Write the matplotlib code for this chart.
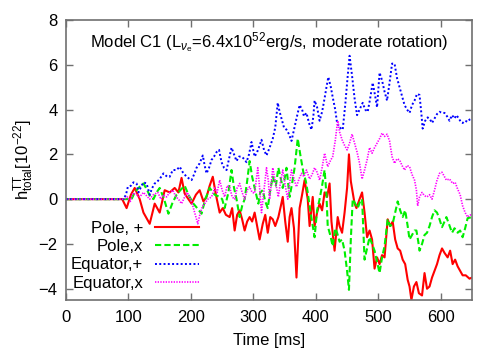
import matplotlib
matplotlib.use("Agg")
import matplotlib.pyplot as plt

plt.rcParams['font.family'] = ['Liberation Sans', 'DejaVu Sans']
plt.rcParams['mathtext.fontset'] = 'custom'
plt.rcParams['mathtext.rm'] = 'Liberation Sans'
plt.rcParams['mathtext.it'] = 'Liberation Sans:italic'

# Pole, +
t_pole_p = [0, 90, 97, 104, 110, 118, 124, 134, 142, 150, 158, 166, 174, 180, 185, 190, 196, 201, 208, 214,
            220, 225, 230, 235, 240, 246, 251, 256, 262, 266, 270, 274, 278, 282, 286, 290, 294, 298, 302, 306,
            310, 315, 319, 323, 327, 331, 335, 340, 344, 347, 351, 355, 358, 361, 365, 369, 374, 378, 382, 387,
            390, 395, 398, 402, 406, 410, 414, 418, 422, 425, 430, 435, 438, 442, 446, 450, 453, 456, 459, 462,
            465, 470, 474, 478, 482, 486, 490, 494, 498, 502, 506, 510, 515, 519, 523, 527, 531, 535, 539, 543,
            547, 550, 553, 557, 561, 565, 570, 574, 578, 582, 586, 590, 594, 598, 602, 606, 611, 615, 619, 623,
            627, 631, 635, 640, 646, 650]
h_pole_p = [0, 0, -0.4, 0.2, 0.5, 0.0, -0.6, -1.1, -0.2, -0.6, 0.4, 0.3, 0.5, 0.3, 0.95, 0.25, 0.0, -0.2, 0.2, 0.4,
            -0.1, 0.1, 0.6, 1.0, 0.2, -0.6, -0.4, -0.7, -0.8, -0.4, -1.4, -0.7, -0.5, -0.9, -1.4, -1.0, -0.8, -1.0, -0.6, -1.2,
            -1.8, -1.1, -0.7, -1.5, -0.8, -0.9, -1.2, -0.8, -0.3, 0.1, -1.0, -1.9, -0.8, -0.4, -1.3, -3.5, -0.4, 0.2, 0.85, 0.0,
            -1.2, 0.1, -1.2, -0.6, -0.2, -0.5, 0.3, 0.1, 0.7, -1.0, -2.3, -0.8, -1.2, -1.5, -0.6, 0.5, 2.0, 0.8, 0.3, -0.2,
            -0.4, 0.0, 0.3, -0.6, -1.7, -1.4, -1.8, -3.1, -2.6, -2.9, -2.5, -2.6, -0.9, -1.2, -1.0, -1.8, -2.2, -2.3, -2.7, -2.9,
            -3.6, -3.9, -4.5, -3.9, -3.7, -4.2, -4.3, -3.3, -4.0, -3.9, -3.5, -3.2, -2.9, -2.5, -2.2, -2.4, -2.6, -2.3, -2.9, -2.7,
            -3.0, -3.2, -3.4, -3.4, -3.55, -3.5]

# Pole, x
t_pole_x = [0, 95, 105, 110, 116, 124, 130, 135, 140, 145, 150, 157, 164, 170, 177, 183, 190, 196, 204, 210,
            217, 223, 230, 238, 246, 250, 254, 260, 265, 269, 273, 278, 282, 286, 290, 294, 298, 302, 308, 311,
            315, 319, 323, 327, 331, 336, 340, 344, 347, 350, 353, 356, 358, 362, 366, 371, 375, 380, 384, 387,
            391, 395, 398, 402, 406, 410, 414, 417, 419, 423, 427, 431, 434, 438, 442, 446, 450, 453, 456, 459,
            463, 467, 471, 474, 478, 482, 486, 490, 494, 498, 502, 506, 510, 515, 519, 523, 527, 531, 535, 539,
            543, 547, 550, 554, 558, 561, 564, 566, 570, 574, 578, 582, 586, 590, 594, 598, 602, 606, 609, 613,
            618, 622, 627, 631, 635, 639, 643, 650]
h_pole_x = [0, 0, 0.0, 0.3, 0.5, 0.7, 0.4, 0.1, 0.0, 0.3, 0.5, 0.0, -0.65, -0.2, 0.2, 0.4, 0.6, 0.2, -0.2, -0.4,
            -0.65, 0.0, 0.5, 0.2, 0.1, 0.0, -0.4, 0.3, 1.3, 0.5, 0.0, -0.8, -0.3, 0.0, 0.8, 1.7, 1.0, 0.5, -0.2, 0.3,
            0.4, -0.1, -0.4, 0.4, 1.0, 0.6, 1.4, 0.9, 0.5, 0.9, 1.4, 0.6, 0.1, 0.7, 1.4, 2.7, 2.0, 1.2, 0.8, 0.3,
            -0.5, -1.2, -1.7, -0.5, 0.0, 0.6, 1.3, 0.2, -1.2, -1.6, -2.1, -1.3, -1.5, -1.9, -1.8, -2.3, -3.2, -4.05, -1.8, 0.0,
            -0.2, -0.4, -0.1, 0.0, -2.7, -2.2, -1.7, -2.0, -2.3, -2.8, -3.3, -2.6, -2.1, -0.9, -1.2, -1.1, -0.6, -0.1, -0.5, -0.8,
            -0.5, -1.2, -1.8, -1.6, -1.4, -1.4, -1.9, -2.3, -2.0, -1.6, -1.5, -1.2, -0.8, -0.5, -0.6, -0.9, -1.25, -1.0, -0.8, -1.1,
            -1.5, -1.3, -1.5, -1.4, -1.7, -1.3, -0.85, -0.8]

# Equator, +
t_eq_p = [0, 92, 96, 99, 104, 108, 113, 116, 121, 124, 129, 134, 138, 142, 145, 150, 156, 162, 166, 171,
          177, 182, 187, 193, 198, 201, 205, 209, 214, 219, 222, 225, 229, 233, 237, 241, 245, 249, 253, 257,
          261, 265, 269, 273, 277, 281, 285, 289, 293, 297, 302, 306, 310, 313, 317, 321, 326, 331, 335, 339,
          342, 345, 349, 353, 357, 361, 365, 369, 374, 378, 381, 385, 389, 393, 396, 398, 402, 406, 410, 414,
          417, 420, 424, 427, 431, 434, 438, 443, 447, 451, 454, 458, 462, 466, 470, 475, 479, 483, 487, 491,
          495, 498, 502, 506, 510, 514, 518, 522, 526, 530, 534, 538, 542, 546, 550, 554, 558, 562, 566, 569,
          571, 575, 579, 583, 586, 590, 594, 598, 602, 606, 610, 614, 618, 622, 625, 629, 632, 635, 639, 643,
          646, 650]
h_eq_p = [0, 0, 0.2, 0.55, 0.6, 0.75, 0.7, 0.3, 0.6, 0.75, 0.7, 0.2, 0.5, 0.7, 0.75, 0.9, 1.15, 1.0, 1.0, 1.3,
          1.3, 1.45, 1.2, 1.0, 0.9, 0.85, 1.1, 1.4, 1.6, 1.95, 1.5, 1.15, 1.4, 1.75, 1.9, 2.1, 2.2, 1.65, 1.4, 1.3,
          1.8, 2.3, 2.0, 1.7, 1.9, 1.9, 1.8, 1.65, 2.0, 2.55, 1.9, 2.1, 2.4, 2.65, 2.2, 1.95, 2.3, 2.7, 3.2, 4.3,
          3.9, 3.6, 3.2, 3.1, 2.9, 2.6, 3.1, 3.6, 4.2, 4.0, 3.7, 3.85, 3.4, 3.1, 3.7, 4.4, 4.1, 3.5, 3.9, 4.5,
          5.0, 5.45, 5.0, 4.55, 4.0, 3.4, 3.2, 3.1, 4.2, 5.5, 6.4, 5.5, 4.5, 3.75, 4.0, 4.3, 4.0, 3.9, 4.5, 5.2,
          4.6, 4.1, 5.65, 5.3, 4.8, 4.4, 5.2, 6.05, 6.05, 5.4, 5.0, 4.6, 4.2, 4.0, 3.85, 4.2, 4.4, 4.7, 4.65, 3.8,
          3.15, 3.5, 3.65, 3.55, 3.4, 3.6, 3.8, 3.9, 3.85, 3.85, 3.7, 3.5, 3.75, 3.6, 3.75, 3.6, 3.45, 3.4, 3.5, 3.45,
          3.55, 3.6]

# Equator, x
t_eq_x = [0, 93, 98, 103, 107, 113, 118, 124, 129, 134, 140, 147, 152, 156, 161, 166, 171, 176, 180, 185,
          190, 194, 198, 203, 207, 211, 215, 219, 222, 227, 233, 238, 242, 246, 250, 254, 258, 262, 266, 270,
          274, 278, 282, 286, 290, 294, 298, 302, 307, 310, 313, 317, 321, 324, 326, 329, 331, 335, 340, 343,
          347, 351, 355, 358, 361, 365, 369, 373, 377, 381, 385, 390, 394, 398, 402, 406, 410, 414, 419, 423,
          427, 431, 435, 438, 442, 446, 450, 454, 458, 462, 466, 470, 474, 478, 482, 486, 490, 494, 498, 502,
          506, 510, 514, 518, 522, 526, 530, 534, 538, 542, 546, 550, 554, 558, 561, 563, 566, 570, 574, 578,
          582, 586, 590, 594, 598, 602, 606, 609, 614, 619, 623, 627, 631, 635, 639, 643, 647, 650]
h_eq_x = [0, 0, 0.1, -0.1, 0.27, 0.2, 0.1, 0.3, 0.15, 0.0, 0.2, 0.3, 0.0, 0.2, 0.1, 0.3, 0.4, 0.1, 0.0, -0.2,
          0.1, 0.3, 0.1, -0.3, -0.7, -1.1, -0.6, -0.3, -0.2, 0.0, 0.1, 0.5, 0.3, 0.85, 0.4, 0.1, 0.6, 0.54, 0.1, 0.0,
          0.5, 0.7, 0.3, 0.0, 0.4, 0.55, 0.3, 0.27, 1.4, 0.5, -0.6, 0.4, 1.4, 0.8, 0.0, 0.8, 1.4, 0.8, 0.1, 0.7,
          1.3, 0.6, 0.0, 0.7, 1.3, 0.9, 0.55, 0.9, 1.15, 1.0, 1.3, 0.9, 1.1, 1.4, 1.2, 0.85, 1.4, 2.05, 1.45, 1.7,
          1.9, 2.6, 3.5, 3.0, 2.65, 2.4, 2.2, 2.5, 2.9, 2.5, 2.1, 1.6, 0.9, 1.3, 1.75, 2.3, 2.05, 2.3, 2.5, 2.7,
          2.95, 2.8, 2.9, 2.6, 1.9, 1.6, 1.8, 1.75, 1.5, 1.3, 1.5, 1.45, 1.1, 0.85, 0.4, -0.3, 0.1, 0.3, 0.15, 0.1,
          0.2, 0.0, 0.4, 0.85, 1.15, 1.2, 1.0, 0.85, 0.9, 0.7, 0.75, 0.45, 0.2, -0.3, -0.6, -0.8, -0.7, -0.75]

labels = ["Pole, +", "Pole,x", "Equator,+", "Equator,x"]

fig = plt.figure(figsize=(5, 3.5), dpi=100)
ax = fig.add_axes([0.132, 0.143, 0.812, 0.8])

ax.plot(t_pole_p, h_pole_p, color="#ff0000", lw=1.5, label=labels[0])
ax.plot(t_pole_x, h_pole_x, color="#00ee00", lw=1.5, dashes=(3, 1.5), label=labels[1])
ax.plot(t_eq_p, h_eq_p, color="#0000ff", lw=1.4, dashes=(1, 1.2), label=labels[2])
ax.plot(t_eq_x, h_eq_x, color="#ff00ff", lw=1.2, dashes=(0.8, 0.8), label=labels[3])

ax.set_xlim(0, 650)
ax.set_ylim(-4.5, 8)
ax.set_xticks(range(0, 700, 100))
ax.set_yticks(range(-4, 10, 2))
ax.tick_params(direction="in", top=True, right=True, length=5, width=1,
               color="#707070", labelsize=12)
ax.tick_params(axis="x", pad=7)
ax.tick_params(axis="y", pad=6)
for s in ax.spines.values():
    s.set_color("#707070")
    s.set_linewidth(1.2)

ax.set_xlabel("Time [ms]", fontsize=12, labelpad=6)
ax.set_ylabel(r"h$^{\rm TT}_{\rm total}$[10$^{-22}$]", fontsize=12, labelpad=2)
ax.text(0.5, 0.92, r"Model C1 (L$_{\nu_{\rm e}}$=6.4x10$^{52}$erg/s, moderate rotation)",
        transform=ax.transAxes, ha="center", va="center", fontsize=12)

ax.legend(loc="center right", bbox_to_anchor=(0.328, 0.158), frameon=False,
          markerfirst=False, fontsize=12, handlelength=2.65, handletextpad=0.7,
          labelspacing=0.2, borderpad=0, borderaxespad=0)

fig.savefig("out.png", dpi=100)
